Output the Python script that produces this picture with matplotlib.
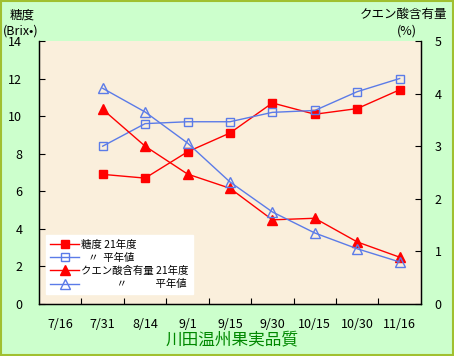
import matplotlib
matplotlib.use('Agg')
import matplotlib.pyplot as plt
from matplotlib.patches import Rectangle

plt.rcParams['font.family'] = ['Noto Sans CJK JP', 'DejaVu Sans']

# categories on the x axis
dates = ['7/16', '7/31', '8/14', '9/1', '9/15', '9/30', '10/15', '10/30', '11/16']
# measured dates (7/16 has no values)
pts = [1, 2, 3, 4, 5, 6, 7, 8]

# sugar content (Brix)
sugar_2009 = [6.9, 6.7, 8.1, 9.1, 10.7, 10.1, 10.4, 11.4]
sugar_avg = [8.4, 9.6, 9.7, 9.7, 10.2, 10.3, 11.3, 12.0]
# citric acid content (%)
acid_2009 = [3.7, 3.0, 2.47, 2.2, 1.6, 1.63, 1.18, 0.89]
acid_avg = [4.1, 3.65, 3.06, 2.32, 1.75, 1.35, 1.05, 0.8]

legend_labels = ['糖度 21年度', '   〃  平年値', 'クエン酸含有量 21年度',
                 ' ' * 15 + '〃' + ' ' * 12 + '平年値']

red = '#FF0000'
blue = '#5B7BE8'

fig = plt.figure(figsize=(4.54, 3.56), dpi=100)
fig.patch.set_facecolor('#CCFFCC')
fig.patches.append(Rectangle((0.002, 0.003), 0.996, 0.994, transform=fig.transFigure,
                             fill=False, edgecolor='#A0C030', linewidth=1.5))

ax = fig.add_axes([0.086, 0.146, 0.841, 0.739])
ax.set_facecolor('#FAEFDC')
ax2 = ax.twinx()

l1, = ax.plot(pts, sugar_2009, color=red, marker='s', markersize=6, lw=1,
              markerfacecolor=red, markeredgecolor=red)
l2, = ax.plot(pts, sugar_avg, color=blue, marker='s', markersize=6, lw=1,
              markerfacecolor='none', markeredgecolor=blue)
l3, = ax2.plot(pts, acid_2009, color=red, marker='^', markersize=7, lw=1,
               markerfacecolor=red, markeredgecolor=red)
l4, = ax2.plot(pts, acid_avg, color=blue, marker='^', markersize=7, lw=1,
               markerfacecolor='none', markeredgecolor=blue)

ax.set_xlim(-0.5, 8.5)
ax.set_ylim(0, 14)
ax2.set_ylim(0, 5)
ax.set_yticks(range(0, 15, 2))
ax2.set_yticks(range(0, 6))

ax.set_xticks(range(len(dates)))
ax.set_xticklabels(dates)
ax.set_xticks([i + 0.5 for i in range(len(dates) - 1)], minor=True)
ax.tick_params(axis='x', which='major', length=0, pad=10, labelsize=9)
ax.tick_params(axis='x', which='minor', direction='in', length=4, width=0.8)
ax.tick_params(axis='y', direction='in', length=4, width=0.8, pad=12, labelsize=9)
ax2.tick_params(axis='y', direction='in', length=4, width=0.8, pad=10, labelsize=9)

for a in (ax, ax2):
    a.spines['top'].set_visible(False)
    for s in ('left', 'right', 'bottom'):
        a.spines[s].set_linewidth(0.9)

fig.text(0.022, 0.958, '糖度', fontsize=9, ha='left', va='center')
fig.text(0.006, 0.914, '(Brix•)', fontsize=9, ha='left', va='center')
fig.text(0.985, 0.958, 'クエン酸含有量', fontsize=9, ha='right', va='center')
fig.text(0.897, 0.914, '(%)', fontsize=9, ha='center', va='center')

fig.text(0.512, 0.046, '川田温州果実品質', fontsize=12, color='#008800',
         ha='center', va='center')

leg = ax2.legend([l1, l2, l3, l4], legend_labels,
                 loc='lower left', bbox_to_anchor=(0.018, 0.04), fontsize=7.5,
                 frameon=True, fancybox=False, handlelength=2.8, handletextpad=0.2,
                 labelspacing=0.3, borderpad=0.4, borderaxespad=0)
leg.get_frame().set_facecolor('white')
leg.get_frame().set_edgecolor('white')
leg.get_frame().set_alpha(1)

fig.savefig('out.png', dpi=100, facecolor=fig.get_facecolor())
